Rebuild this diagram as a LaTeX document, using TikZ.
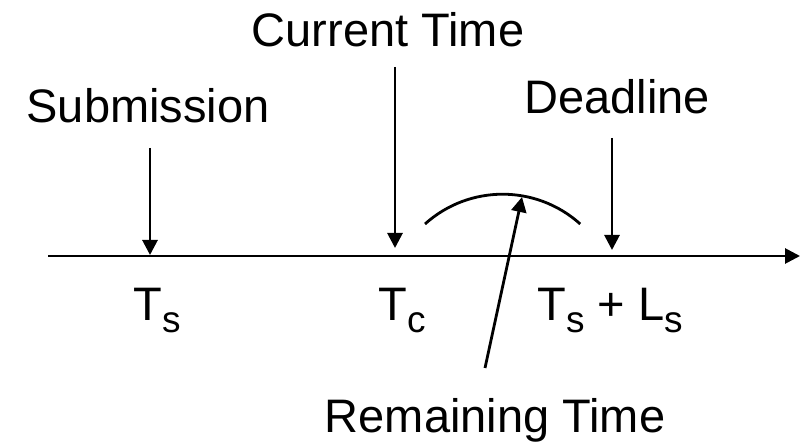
\documentclass[tikz,border=0pt]{standalone}
\usepackage{fontspec}
\setmainfont{Liberation Sans}
\usetikzlibrary{arrows.meta}
\newcommand{\lowsub}[1]{\raisebox{-12pt}{\fontsize{37pt}{37pt}\selectfont #1}}
\tikzset{
  lbl/.style={anchor=base, inner sep=0pt, font=\fontsize{47pt}{50pt}\selectfont},
  arr/.style={line width=2.8pt, -{Triangle[length=15pt,width=15pt]}},
  plain/.style={line width=2.8pt}
}
\begin{document}
\begin{tikzpicture}[x=1pt,y=-1pt]
\useasboundingbox (0,0) rectangle (808,446);
% labels
\node[lbl] (cur) at (388,47) {Current Time};
\node[lbl] (sub) at (148,123) {Submission};
\node[lbl] (dead) at (617,114) {Deadline};
\node[lbl] (rem) at (495,432) {Remaining Time};
\node[lbl] (ts) at (157,320) {T\lowsub{s}};
\node[lbl] (tc) at (402,320) {T\lowsub{c}};
\node[lbl] (tsls) at (610,320) {T\lowsub{s} + L\lowsub{s}};
% axis
\coordinate (axstart) at (48,256);
\coordinate (axend) at (800,256);
\draw[arr] (axstart) -- (axend);
% arrows
\coordinate (subA) at (150,148);
\coordinate (subB) at (150,255);
\coordinate (curA) at (395,67);
\coordinate (curB) at (395,248);
\coordinate (deadA) at (612,138);
\coordinate (deadB) at (612,250);
\draw[arr] (subA) -- (subB);
\draw[arr] (curA) -- (curB);
\draw[arr] (deadA) -- (deadB);
% arc
\coordinate (arcS) at (425,224);
\draw[plain] (arcS) arc[start angle=-132, end angle=-48, radius=116];
% remaining time arrow
\coordinate (remA) at (485,368);
\coordinate (remB) at (522,197);
\draw[arr] (remA) -- (remB);
\end{tikzpicture}
\end{document}
